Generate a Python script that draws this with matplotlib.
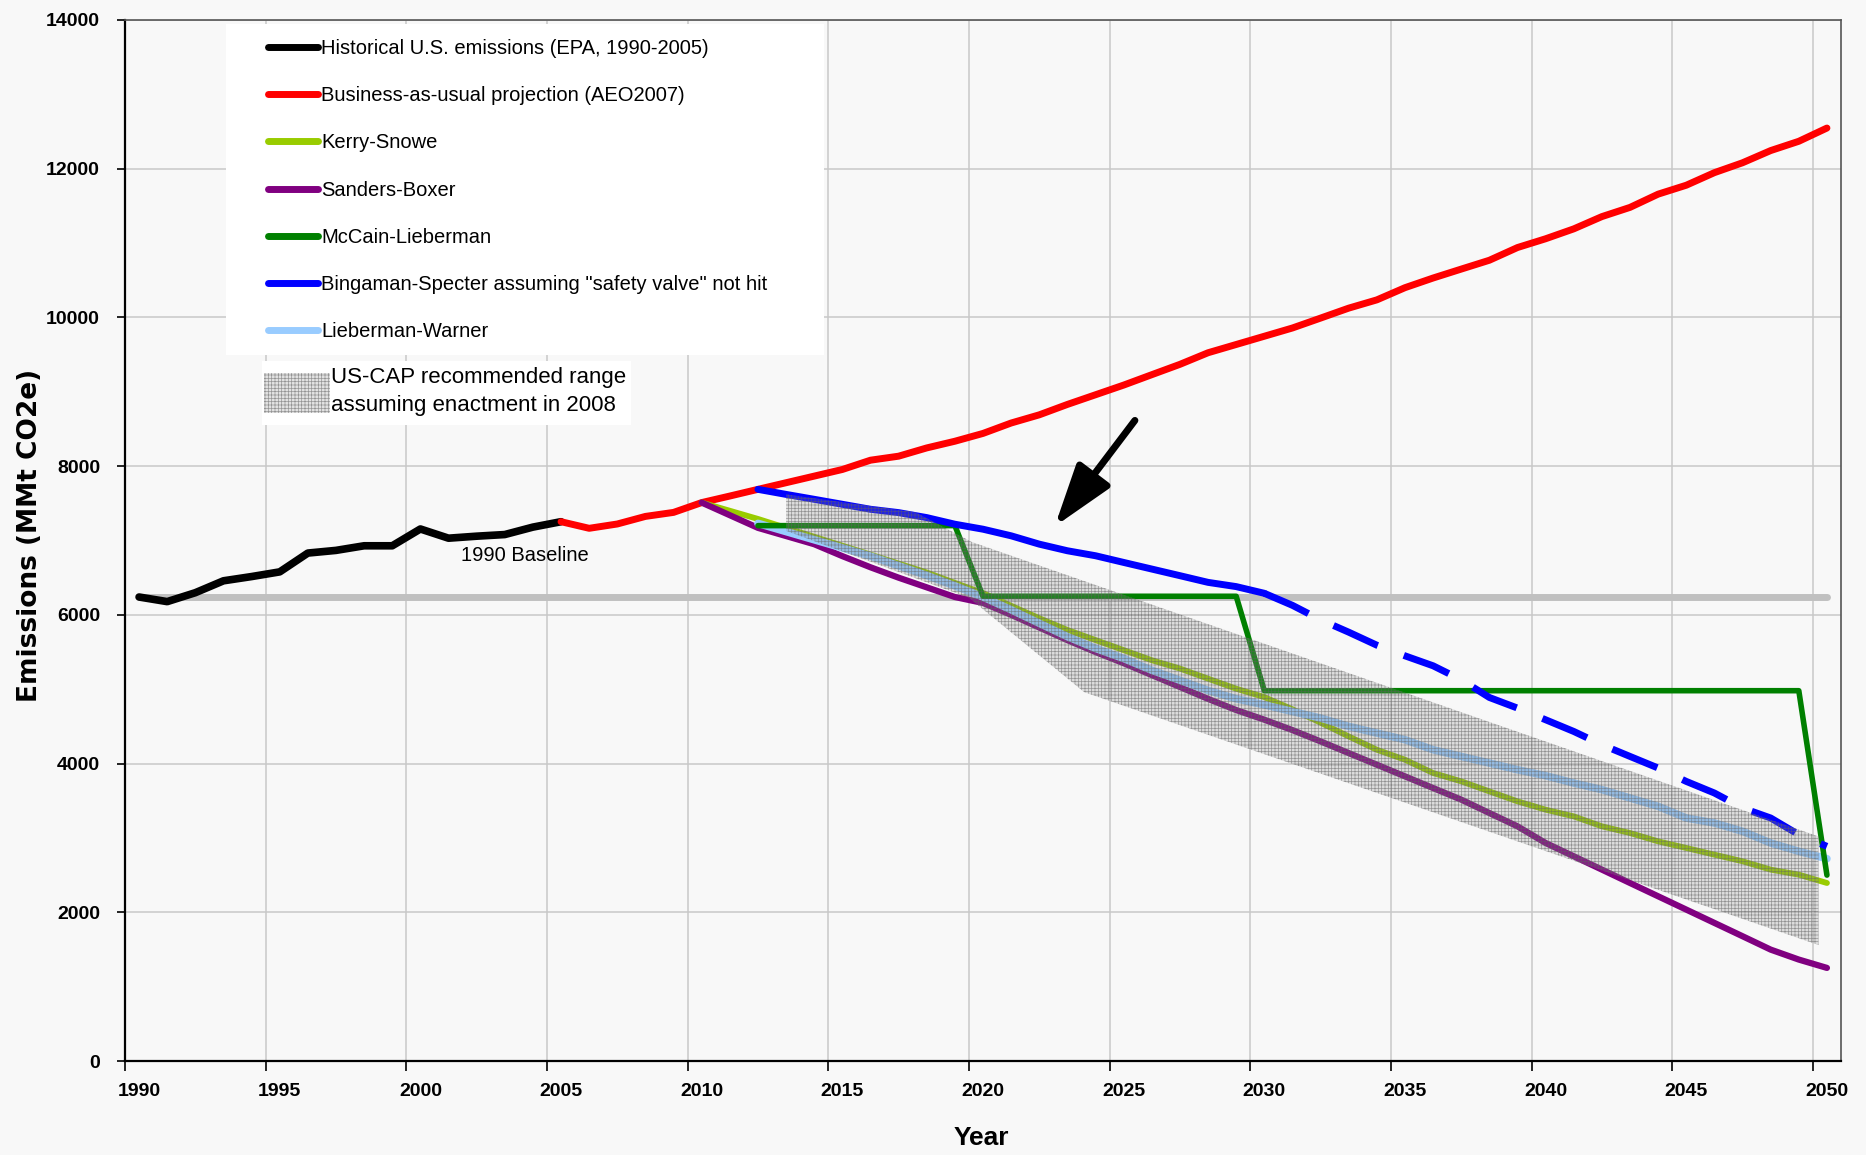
import matplotlib
matplotlib.use('Agg')
import matplotlib.pyplot as plt
import matplotlib.patches as mpatches
from matplotlib import font_manager
from matplotlib.lines import Line2D

# ---- data (MMt CO2e) ----
hist_years = list(range(1990, 2006))
hist_vals = [6240, 6178, 6298, 6458, 6515, 6578, 6831, 6867, 6929, 6929,
             7155, 7031, 7058, 7080, 7180, 7253]

bau_years = list(range(2005, 2051))
bau_vals = [7253, 7164, 7222, 7324, 7378, 7510, 7598, 7688, 7777, 7866,
            7955, 8080, 8134, 8245, 8335, 8440, 8580, 8690, 8830, 8960,
            9090, 9230, 9369, 9525, 9636, 9747, 9858, 9991, 10125, 10236,
            10400, 10530, 10650, 10769, 10940, 11058, 11191, 11356, 11480, 11658,
            11778, 11947, 12080, 12244, 12369, 12547]

ks_years = list(range(2010, 2051))
ks_vals = [7510, 7400, 7290, 7170, 7050, 6930, 6810, 6690, 6570, 6430,
           6293, 6122, 5955, 5797, 5661, 5526, 5390, 5278, 5142, 5007,
           4894, 4730, 4550, 4365, 4186, 4052, 3873, 3761, 3626, 3492,
           3380, 3290, 3156, 3066, 2954, 2865, 2775, 2686, 2574, 2506, 2394]

sb_years = list(range(2010, 2051))
sb_vals = [7510, 7340, 7170, 7060, 6950, 6790, 6640, 6500, 6370, 6240,
           6160, 6000, 5830, 5660, 5500, 5350, 5190, 5030, 4870, 4720,
           4590, 4450, 4298, 4141, 3985, 3828, 3671, 3515, 3335, 3156,
           2932, 2753, 2574, 2394, 2215, 2036, 1857, 1678, 1498, 1364, 1252]

ml_years = list(range(2012, 2051))
ml_vals = [7200, 7200, 7200, 7200, 7200, 7200, 7200, 7200,
           6250, 6250, 6250, 6250, 6250, 6250, 6250, 6250, 6250, 6250,
           4980, 4980, 4980, 4980, 4980, 4980, 4980, 4980, 4980, 4980,
           4980, 4980, 4980, 4980, 4980, 4980, 4980, 4980, 4980, 4980,
           2500]

bs_years = list(range(2012, 2031))
bs_vals = [7688, 7620, 7554, 7487, 7420, 7375, 7308, 7219, 7152, 7063,
           6951, 6862, 6795, 6705, 6616, 6527, 6437, 6380, 6290]
bs_dash_years = list(range(2030, 2051))
bs_dash_vals = [6290, 6128, 5933, 5767, 5592, 5449, 5315, 5127, 4889, 4746,
                4589, 4432, 4253, 4096, 3940, 3760, 3604, 3402, 3268, 3044, 2887]

lw_years = list(range(2012, 2051))
lw_vals = [7230, 7120, 7010, 6900, 6790, 6660, 6530, 6390, 6240, 6068,
           5887, 5707, 5549, 5413, 5255, 5120, 4984, 4871, 4790, 4700,
           4612, 4500, 4410, 4321, 4186, 4096, 4007, 3917, 3837, 3738,
           3649, 3537, 3425, 3268, 3201, 3089, 2932, 2820, 2721]

baseline_years = [1990, 2050]
baseline_vals = [6240, 6240]

# US-CAP recommended range (polygon edges)
uscap_upper_years = [2013.0, 2017.6, 2019.6, 2049.7]
uscap_upper_vals = [7620, 7380, 6980, 3020]
uscap_lower_years = [2013.0, 2019.5, 2023.6, 2049.7]
uscap_lower_vals = [7130, 6230, 4960, 1560]

arrow_tail = (2025.4, 8615)
arrow_head = (2022.55, 7190)

labels = ['Historical U.S. emissions (EPA, 1990-2005)',
          'Business-as-usual projection (AEO2007)',
          'Kerry-Snowe',
          'Sanders-Boxer',
          'McCain-Lieberman',
          'Bingaman-Specter assuming "safety valve" not hit',
          'Lieberman-Warner']
colors = ['#000000', '#ff0000', '#99cc00', '#800080', '#008000', '#0000ff', '#99ccff']

# ---- fonts ----
names = {f.name for f in font_manager.fontManager.ttflist}
if 'Liberation Sans Narrow' in names:
    narrow = 'Liberation Sans Narrow'
    leg_fs, tick_fs, year_fs = 18, 17, 23
else:
    narrow = 'Liberation Sans'
    leg_fs, tick_fs, year_fs = 14.5, 14, 19
regular = 'Liberation Sans'

W, H = 1866, 1155
bg = '#f8f8f8'
fig = plt.figure(figsize=(W / 100, H / 100), dpi=100, facecolor=bg)
ax = fig.add_axes([125 / W, 94 / H, 1716 / W, 1041 / H], facecolor=bg)

# grid
ax.set_xlim(1989.5, 2050.5)
ax.set_ylim(0, 14000)
ax.set_yticks(range(0, 14001, 2000))
ax.set_xticks([1989.5 + 5 * k for k in range(13)])
ax.set_xticklabels([])
ax.set_xticks(list(range(1990, 2051, 5)), minor=True)
ax.set_xticklabels([str(y) for y in range(1990, 2051, 5)], minor=True)
ax.grid(True, which='major', color='#c8c8c8', lw=1.1, zorder=0)
ax.set_axisbelow(True)
ax.tick_params(axis='x', which='major', direction='out', length=7, width=1.2, color='black')
ax.tick_params(axis='x', which='minor', length=0, pad=16)
ax.tick_params(axis='y', direction='out', length=6, width=1.2, pad=12)
for lab in ax.get_xticklabels(minor=True) + ax.get_yticklabels():
    lab.set_fontfamily(narrow)
    lab.set_fontweight('bold')
    lab.set_fontsize(tick_fs)

for s in ['left', 'bottom']:
    ax.spines[s].set_color('black')
    ax.spines[s].set_linewidth(1.6)
for s in ['top', 'right']:
    ax.spines[s].set_color('#555555')
    ax.spines[s].set_linewidth(1.2)

# baseline
ax.plot(baseline_years, baseline_vals, color='#c0c0c0', lw=5,
        solid_capstyle='round', zorder=2)

kw = dict(solid_capstyle='round', solid_joinstyle='round', zorder=3)
ax.plot(hist_years, hist_vals, color=colors[0], lw=5.5, **kw)
ax.plot(bau_years, bau_vals, color=colors[1], lw=5, **kw)
ax.plot(ks_years, ks_vals, color=colors[2], lw=4.2, **kw)
ax.plot(sb_years, sb_vals, color=colors[3], lw=4.5, **kw)
ax.plot(lw_years, lw_vals, color=colors[6], lw=5.5, **kw)
ax.plot(ml_years, ml_vals, color=colors[4], lw=4.0, **kw)
ax.plot(bs_years, bs_vals, color=colors[5], lw=5, **kw)
ax.plot(bs_dash_years, bs_dash_vals, color=colors[5], lw=5,
        dashes=(7, 4), zorder=3)

# US-CAP range, drawn over the lines
plt.rcParams['hatch.linewidth'] = 0.5
poly_x = uscap_upper_years + uscap_lower_years[::-1]
poly_y = uscap_upper_vals + uscap_lower_vals[::-1]
uscap_face = (0.55, 0.55, 0.55, 0.25)
uscap_hatch = (0.38, 0.38, 0.38, 0.6)
ax.fill(poly_x, poly_y, facecolor=uscap_face, edgecolor=uscap_hatch,
        hatch='+++++', lw=0, zorder=5)

# arrow + baseline text
ax.annotate('', xy=arrow_head, xytext=arrow_tail,
            arrowprops=dict(arrowstyle='-|>,head_length=1.9,head_width=0.62',
                            lw=5, color='black', mutation_scale=20,
                            shrinkA=0, shrinkB=0), zorder=6)
ax.text(2003.7, 6800, '1990 Baseline', fontsize=14.5, family=regular,
        ha='center', va='center', zorder=6)

# axis labels
ax.set_xlabel('Year', fontsize=year_fs, fontweight='bold', family=narrow)
ax.xaxis.set_label_coords(0.499, -0.062)
ax.set_ylabel('Emissions (MMt CO2e)', fontsize=19, fontweight='bold', family='DejaVu Sans')
ax.yaxis.set_label_coords(-0.048, 0.505)

# white boxes behind the two legends
for (x0, y0, x1, y1) in [(226, 24, 824, 355), (262, 361, 631, 425)]:
    ax.add_patch(mpatches.Rectangle((x0 / W, 1 - y1 / H), (x1 - x0) / W, (y1 - y0) / H,
                                    transform=fig.transFigure, facecolor='white',
                                    edgecolor='none', clip_on=False, zorder=6.5))

# legends
handles = [Line2D([], [], color=c, lw=5, solid_capstyle='round') for c in colors]
leg = ax.legend(handles, labels, loc='upper left',
                bbox_to_anchor=(268 / W, 1 - 39 / H),
                bbox_transform=fig.transFigure, borderaxespad=0, borderpad=0,
                prop={'family': narrow, 'size': leg_fs}, frameon=False,
                handlelength=2.5, handletextpad=0.15, labelspacing=1.4)
leg.set_zorder(7)
ax.add_artist(leg)

leg2_handle = mpatches.Patch(facecolor=uscap_face, edgecolor=uscap_hatch,
                             hatch='+++++', lw=0)
leg2 = ax.legend([leg2_handle], ['US-CAP recommended range\nassuming enactment in 2008'],
                 loc='upper left', bbox_to_anchor=(264 / W, 1 - 367 / H),
                 bbox_transform=fig.transFigure, borderaxespad=0, borderpad=0,
                 prop={'family': regular, 'size': 16}, frameon=False,
                 handlelength=2.95, handleheight=2.4, handletextpad=0.05)
leg2.get_texts()[0].set_linespacing(1.45)
leg2.set_zorder(7)

fig.savefig('out.png', dpi=100, facecolor=bg)
